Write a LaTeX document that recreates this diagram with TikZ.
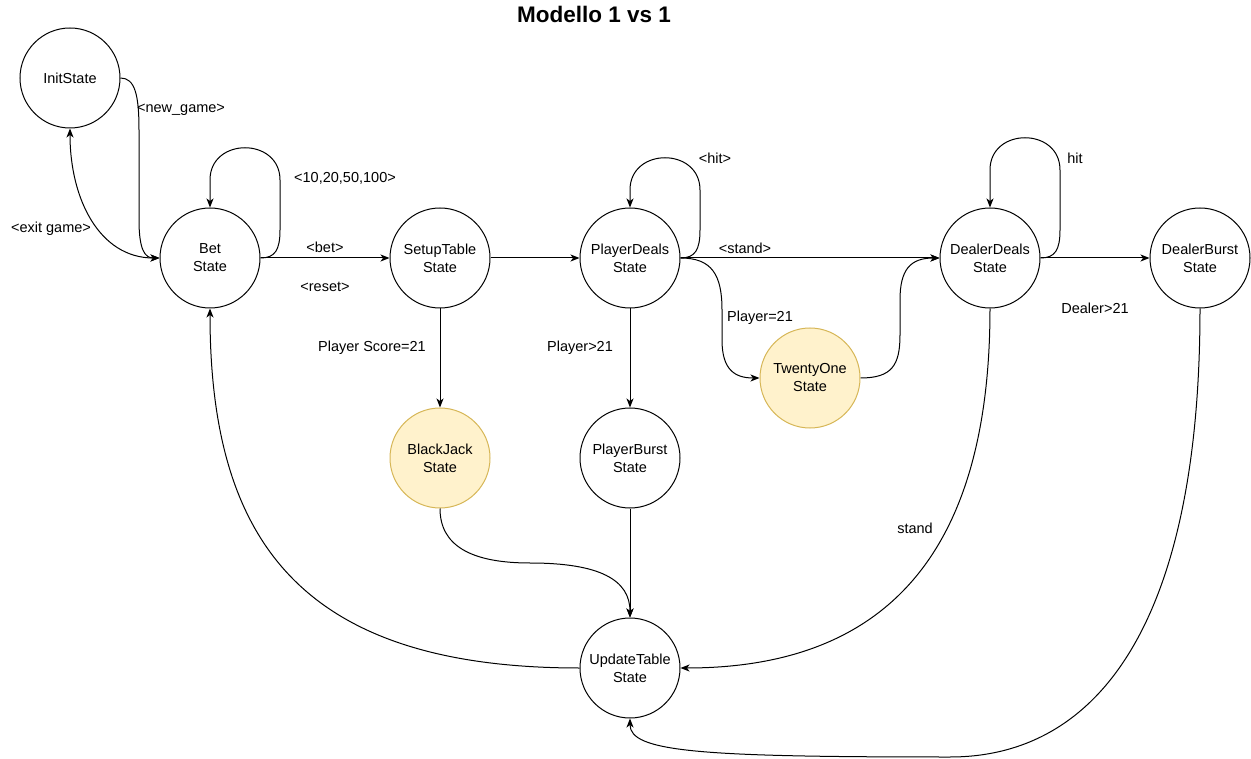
\documentclass[tikz,border=0pt]{standalone}
\usepackage{fontspec}
\setmainfont{Liberation Sans}
\usetikzlibrary{arrows.meta}
\definecolor{accentfill}{HTML}{FFF2CC}
\definecolor{accentline}{HTML}{D6B656}
\begin{document}
\begin{tikzpicture}[x=1pt,y=-1pt,
  txt/.style={font=\fontsize{14.5}{18}\selectfont},
  state/.style={circle, draw, line width=1pt, minimum size=100pt, inner sep=0pt, align=center, txt},
  accent/.style={state, draw=accentline, fill=accentfill},
  lbl/.style={txt, inner sep=1pt},
  link/.style={line width=1pt},
  arr/.style={link, -{Stealth[length=9pt,width=7pt,inset=2.5pt]}},
  both/.style={link, {Stealth[length=9pt,width=7pt,inset=2.5pt]}-{Stealth[length=9pt,width=7pt,inset=2.5pt]}},
]
\useasboundingbox (0,0) rectangle (1251,759);

\node[font=\fontsize{22.5}{26}\selectfont\bfseries] (title) at (594,14) {Modello 1 vs 1};

% states
\node[state] (init) at (70,78) {InitState};
\node[state] (bet) at (210,258) {Bet\\State};
\node[state] (setup) at (440,258) {SetupTable\\State};
\node[state] (pdeals) at (630,258) {PlayerDeals\\State};
\node[state] (ddeals) at (990,258) {DealerDeals\\State};
\node[state] (dburst) at (1200,258) {DealerBurst\\State};
\node[accent] (twentyone) at (810,378) {TwentyOne\\State};
\node[accent] (blackjack) at (440,458) {BlackJack\\State};
\node[state] (pburst) at (630,458) {PlayerBurst\\State};
\node[state] (update) at (630,668) {UpdateTable\\State};

% transitions
\draw[arr] (init.east) .. controls (135,78) and (139,95) .. (139,130)
  -- (139,220) .. controls (139,250) and (145,258) .. (bet.west);
\draw[both] (bet.west) .. controls (100,258) and (70,200) .. (init.south);

\draw[arr] (bet.east) .. controls (275,258) and (280,250) .. (280,230)
  -- (280,180) .. controls (280,137) and (210,137) .. (210,180) -- (bet.north);
\draw[arr] (pdeals.east) .. controls (695,258) and (700,250) .. (700,230)
  -- (700,190) .. controls (700,147) and (630,147) .. (630,190) -- (pdeals.north);
\draw[arr] (ddeals.east) .. controls (1055,258) and (1060,250) .. (1060,230)
  -- (1060,170) .. controls (1060,127) and (990,127) .. (990,170) -- (ddeals.north);

\draw[arr] (bet) -- (setup);
\draw[arr] (setup) -- (pdeals);
\draw[arr] (pdeals) -- (ddeals);
\draw[arr] (ddeals) -- (dburst);
\draw[arr] (setup) -- (blackjack);
\draw[arr] (pdeals) -- (pburst);
\draw[arr] (pburst) -- (update);

\draw[arr] (pdeals.east) .. controls (712,258) and (722,275) .. (722,310)
  -- (722,340) .. controls (722,370) and (735,378) .. (twentyone.west);
\draw[arr] (twentyone.east) .. controls (892,378) and (900,365) .. (900,335)
  -- (900,300) .. controls (900,270) and (910,258) .. (ddeals.west);

\draw[arr] (blackjack.south) .. controls (440,545) and (470,563) .. (530,563)
  .. controls (600,563) and (630,580) .. (update.north);
\draw[arr] (update.west) .. controls (300,668) and (210,540) .. (bet.south);
\draw[arr] (ddeals.south) .. controls (990,560) and (880,668) .. (update.east);
\draw[arr] (dburst.south) .. controls (1200,620) and (1100,757) .. (950,757)
  .. controls (700,757) and (630,752) .. (update.south);

% labels
\node[lbl] (l1) at (181,110) {<new\_game>};
\node[lbl] (l2) at (51,229) {<exit game>};
\node[lbl] (l3) at (345,178) {<10,20,50,100>};
\node[lbl] (l4) at (325,247) {<bet>};
\node[lbl] (l5) at (325,287) {<reset>};
\node[lbl] (l6) at (715,158) {<hit>};
\node[lbl] (l7) at (745,248) {<stand>};
\node[lbl] (l8) at (760,318) {Player=21};
\node[lbl] (l9) at (1075,158) {hit};
\node[lbl] (l10) at (1095,308) {Dealer>21};
\node[lbl] (l11) at (372,348) {Player Score=21};
\node[lbl] (l12) at (580,348) {Player>21};
\node[lbl] (l13) at (915,528) {stand};
\end{tikzpicture}
\end{document}
